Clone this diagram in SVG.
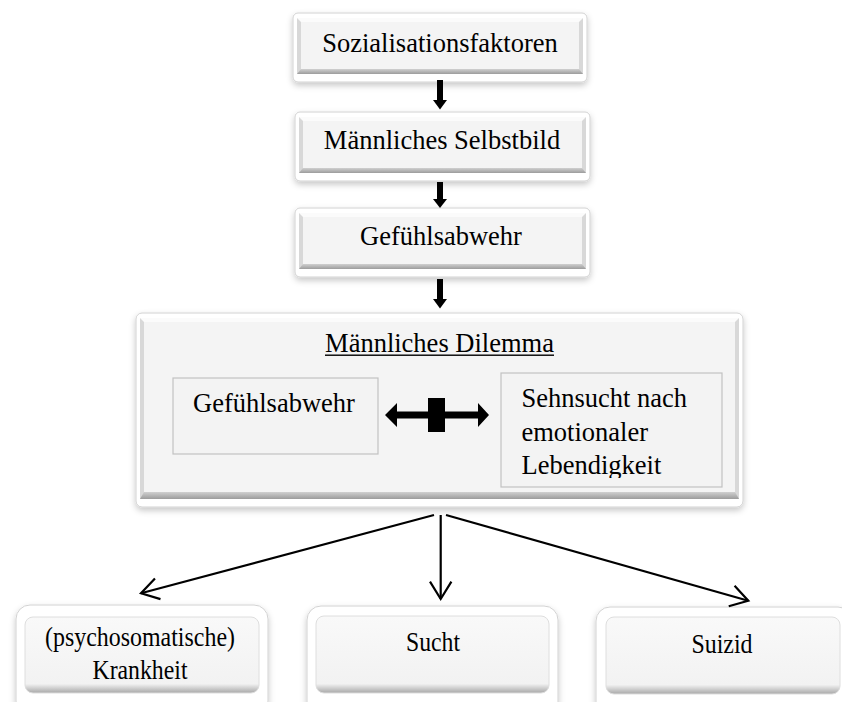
<svg xmlns="http://www.w3.org/2000/svg" width="842" height="702" viewBox="0 0 842 702" font-family="'Liberation Serif', 'DejaVu Serif', serif">
<style>
text{font-family:'Liberation Serif','DejaVu Serif',serif;font-size:26.5px;fill:#000}
.c{text-anchor:middle}
.frame{fill:#fff;stroke:#d2d2d2;stroke-width:1;filter:url(#sh)}
.bev{fill:#d8d8d8}
.top{fill:#fbfbfb}
.bot{fill:url(#botG)}
.face{fill:#f4f4f4}
.inner{fill:#f3f3f3;stroke:#c2c2c2;stroke-width:1.2}
.rface{fill:url(#rfG);stroke:#dedede;stroke-width:1}
.ln{fill:none;stroke:#000;stroke-width:2.2;marker-end:url(#open)}
.blk{fill:#000}
</style>
<defs>
<filter id="sh" x="-10%" y="-10%" width="120%" height="130%">
<feDropShadow dx="0" dy="3" stdDeviation="3" flood-color="#000" flood-opacity="0.22"/>
</filter>
<linearGradient id="botG" x1="0" y1="0" x2="0" y2="1">
<stop offset="0" stop-color="#d0d0d0"/>
<stop offset="1" stop-color="#9c9c9c"/>
</linearGradient>
<linearGradient id="rfG" x1="0" y1="0" x2="0" y2="1">
<stop offset="0" stop-color="#f9f9f9"/>
<stop offset="0.88" stop-color="#f2f2f2"/>
<stop offset="1" stop-color="#a8a8a8"/>
</linearGradient>
<marker id="open" markerUnits="userSpaceOnUse" viewBox="-2 -13 22 26" markerWidth="22" markerHeight="26" refX="17.3" refY="0" orient="auto">
<path d="M0,-10.7 L17.3,0 L0,10.7" fill="none" stroke="#000" stroke-width="2.2"/>
</marker>
<clipPath id="clipR"><rect x="501" y="373" width="221" height="105"/></clipPath>
</defs>

<g id="n1">
<rect class="frame" x="293" y="13" width="294" height="69" rx="5"/>
<rect class="bev" x="297" y="18" width="286" height="56"/>
<polygon class="top" points="297,18 583,18 579,22 301,22"/>
<polygon class="bot" points="297,74 583,74 579,69 301,69"/>
<rect class="face" x="301" y="22" width="278" height="47"/>
<text class="c" x="440" y="52">Sozialisationsfaktoren</text>
</g>

<g id="n2">
<rect class="frame" x="295" y="112" width="295" height="69" rx="5"/>
<rect class="bev" x="299" y="117" width="287" height="56"/>
<polygon class="top" points="299,117 586,117 582,121 303,121"/>
<polygon class="bot" points="299,173 586,173 582,168 303,168"/>
<rect class="face" x="303" y="121" width="279" height="47"/>
<text class="c" x="442" y="149">Männliches Selbstbild</text>
</g>

<g id="n3">
<rect class="frame" x="295" y="208" width="295" height="69" rx="5"/>
<rect class="bev" x="299" y="213" width="287" height="56"/>
<polygon class="top" points="299,213 586,213 582,217 303,217"/>
<polygon class="bot" points="299,269 586,269 582,264 303,264"/>
<rect class="face" x="303" y="217" width="279" height="47"/>
<text class="c" x="441" y="245">Gefühlsabwehr</text>
</g>

<g id="n4">
<rect class="frame" x="136" y="313" width="607" height="194" rx="6"/>
<rect class="bev" x="140" y="318" width="599" height="181"/>
<polygon class="top" points="140,318 739,318 735,322 144,322"/>
<polygon class="bot" points="140,499 739,499 735,492 144,492"/>
<rect class="face" x="144" y="322" width="591" height="170"/>
<text class="c" x="439.5" y="351.5">Männliches Dilemma</text>
<rect x="325" y="354.5" width="229" height="1.4" fill="#000"/>
</g>

<g id="n5">
<rect class="inner" x="173" y="378" width="205" height="76"/>
<text x="193" y="411.5">Gefühlsabwehr</text>
</g>

<g id="n6">
<rect class="inner" x="501" y="373" width="221" height="114"/>
<g clip-path="url(#clipR)">
<text x="521.5" y="407">Sehnsucht nach</text>
<text x="521.5" y="440.5">emotionaler</text>
<text x="521.5" y="474">Lebendigkeit</text>
</g>
</g>

<g id="n7">
<rect class="frame" x="16" y="605" width="252" height="110" rx="14"/>
<rect class="rface" x="25" y="617" width="234" height="76" rx="8"/>
<text class="c" x="140" y="645.5" textLength="190" lengthAdjust="spacingAndGlyphs">(psychosomatische)</text>
<text class="c" x="140" y="678.5" textLength="95" lengthAdjust="spacingAndGlyphs">Krankheit</text>
</g>

<g id="n8">
<rect class="frame" x="307" y="606" width="251" height="110" rx="14"/>
<rect class="rface" x="316" y="616" width="233" height="77" rx="8"/>
<text class="c" x="433" y="651" textLength="54" lengthAdjust="spacingAndGlyphs">Sucht</text>
</g>

<g id="n9">
<rect class="frame" x="596" y="607" width="256" height="110" rx="14"/>
<rect class="rface" x="606" y="617" width="234" height="77" rx="8"/>
<text class="c" x="722" y="653" textLength="61" lengthAdjust="spacingAndGlyphs">Suizid</text>
</g>

<g id="connectors">
<rect class="blk" x="437" y="80" width="6" height="21"/>
<polygon class="blk" points="433,100 447,100 440,109.5"/>
<rect class="blk" x="437" y="182" width="6" height="18"/>
<polygon class="blk" points="433,199 447,199 440,208"/>
<rect class="blk" x="437" y="279" width="6" height="21"/>
<polygon class="blk" points="433,299 447,299 440,308.5"/>
<polygon class="blk" points="385,415 397,403 397,411.5 478,411.5 478,403 489,415 478,427 478,418.5 397,418.5 397,427"/>
<rect class="blk" x="428" y="398" width="17" height="34"/>
<line class="ln" x1="434" y1="515" x2="141" y2="593.3"/>
<line class="ln" x1="440.7" y1="515" x2="440.7" y2="599"/>
<line class="ln" x1="446" y1="515" x2="748.3" y2="600.7"/>
</g>
</svg>
